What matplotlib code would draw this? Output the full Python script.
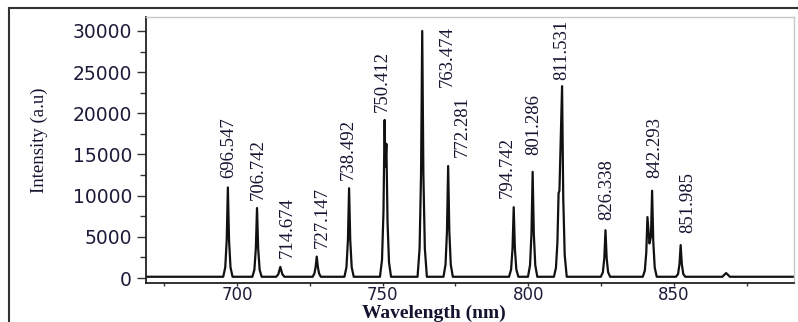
import matplotlib
matplotlib.use("Agg")
import matplotlib.pyplot as plt
from matplotlib.lines import Line2D
from matplotlib.ticker import MultipleLocator

# ---- data ----
# spectrum polyline vertices (wavelength in nm, intensity in a.u.)
spectrum_nm = [
    668.8,
    695.3, 696.0, 696.5, 696.9, 697.3, 697.8, 698.5,
    705.3, 706.0, 706.5, 706.9, 707.3, 707.8, 708.5,
    713.5, 714.2, 714.9, 715.6, 716.3,
    726.0, 726.6, 727.0, 727.4, 727.8, 728.2, 728.8,
    736.9, 737.6, 738.1, 738.5, 738.9, 739.4, 740.1,
    749.1, 749.8, 750.3, 750.7, 750.95, 751.3, 751.7, 752.2, 752.9,
    762.0, 762.7, 763.2, 763.6, 764.0, 764.5, 765.2,
    770.9, 771.6, 772.1, 772.5, 772.9, 773.4, 774.1,
    793.4, 794.1, 794.6, 795.0, 795.4, 795.9, 796.6,
    799.9, 800.6, 801.1, 801.5, 801.9, 802.4, 803.1,
    808.8, 809.5, 810.0, 810.4, 810.7, 811.6, 812.0, 812.5, 813.2,
    824.9, 825.6, 826.1, 826.5, 826.9, 827.4, 828.1,
    839.3, 840.0, 840.5, 840.9, 841.6, 842.1, 842.5, 842.9, 843.4, 844.1,
    850.7, 851.4, 851.9, 852.3, 852.7, 853.2, 853.9,
    866.6, 867.3, 867.9, 868.5, 869.2,
    891.2,
]
spectrum_int = [
    150,
    150, 1300, 4600, 11000, 4600, 1300, 150,
    150, 1000, 3600, 8500, 3600, 1000, 150,
    150, 450, 1350, 450, 150,
    150, 550, 1300, 2600, 1300, 550, 150,
    150, 1300, 4600, 10900, 4600, 1300, 150,
    150, 2200, 8000, 19200, 13500, 16300, 6800, 1900, 150,
    150, 3600, 12600, 30000, 12600, 3600, 150,
    150, 1630, 5700, 13600, 5700, 1630, 150,
    150, 1030, 3600, 8600, 3600, 1030, 150,
    150, 1550, 5400, 12900, 5400, 1550, 150,
    150, 1240, 4300, 10300, 10600, 23300, 9800, 2800, 150,
    150, 700, 2440, 5800, 2440, 700, 150,
    150, 900, 3100, 7400, 4200, 5000, 10600, 4450, 1270, 150,
    150, 480, 1680, 4000, 1680, 480, 150,
    150, 400, 600, 400, 150,
    150,
]

peak_labels = ["696.547", "706.742", "714.674", "727.147", "738.492", "750.412",
               "763.474", "772.281", "794.742", "801.286", "811.531", "826.338",
               "842.293", "851.985"]
# anchor (centre x in nm, bottom of text in a.u.) of each peak label
label_x = [697.3, 707.2, 717.2, 729.2, 738.1, 749.8, 772.1, 777.3, 792.7,
           802.0, 811.6, 827.0, 843.5, 854.9]
label_y = [12150, 9470, 2430, 3640, 11900, 20160, 23200, 14700, 9720,
           14940, 24050, 7050, 12150, 5470]

x_ticks = [700, 750, 800, 850]
y_ticks = [0, 5000, 10000, 15000, 20000, 25000, 30000]

# ---- figure ----
W, H = 798, 322
fig = plt.figure(figsize=(W / 100, H / 100), dpi=100)
fig.patch.set_facecolor("white")

ax = fig.add_axes([146 / W, 39 / H, 648 / W, 266 / H])
ax.plot(spectrum_nm, spectrum_int, color="#111111", lw=1.6, solid_joinstyle="round")

ax.set_xlim(668.8, 891.2)
ax.set_ylim(-607, 31700)
ax.set_xticks(x_ticks)
ax.set_yticks(y_ticks)
ax.xaxis.set_minor_locator(MultipleLocator(25))
ax.yaxis.set_minor_locator(MultipleLocator(2500))

tick_color = "#1c1c3a"
ax.tick_params(axis="y", which="major", length=6.5, width=1.0, direction="out",
               pad=3.5, labelsize=13.5, labelcolor=tick_color, color="#333333")
ax.tick_params(axis="y", which="minor", length=4.3, width=1.0, direction="out",
               color="#333333")
ax.tick_params(axis="x", which="both", length=2.5, width=1.0, direction="out",
               pad=0.0, labelsize=12, labelcolor=tick_color, color="#333333")
for lab in ax.get_xticklabels() + ax.get_yticklabels():
    lab.set_family("DejaVu Sans")

for side in ("left", "bottom"):
    ax.spines[side].set_color("#222222")
    ax.spines[side].set_linewidth(1.3)
for side in ("top", "right"):
    ax.spines[side].set_color("#c8c8c8")
    ax.spines[side].set_linewidth(1.0)

for txt, x, y in zip(peak_labels, label_x, label_y):
    ax.text(x, y, txt, rotation=90, ha="center", va="bottom",
            family="Liberation Serif", fontsize=13.5, color="#141430")

fig.text(39 / W, 1 - 140 / H, "Intensity (a.u)", rotation=90, ha="center",
         va="center", family="Liberation Serif", fontsize=13.5, color="#141430")
fig.text(434 / W, 0.5 / H, "Wavelength (nm)", ha="center", va="bottom",
         family="Liberation Serif", fontweight="bold", fontsize=14, color="#141430")

# outer frame (left and top edges visible)
fig.add_artist(Line2D([9 / W, 9 / W], [0, 1 - 8 / H], color="#333333", lw=1.5))
fig.add_artist(Line2D([9 / W, 1], [1 - 8 / H, 1 - 8 / H], color="#333333", lw=1.5))

fig.savefig("out.png", dpi=100)
